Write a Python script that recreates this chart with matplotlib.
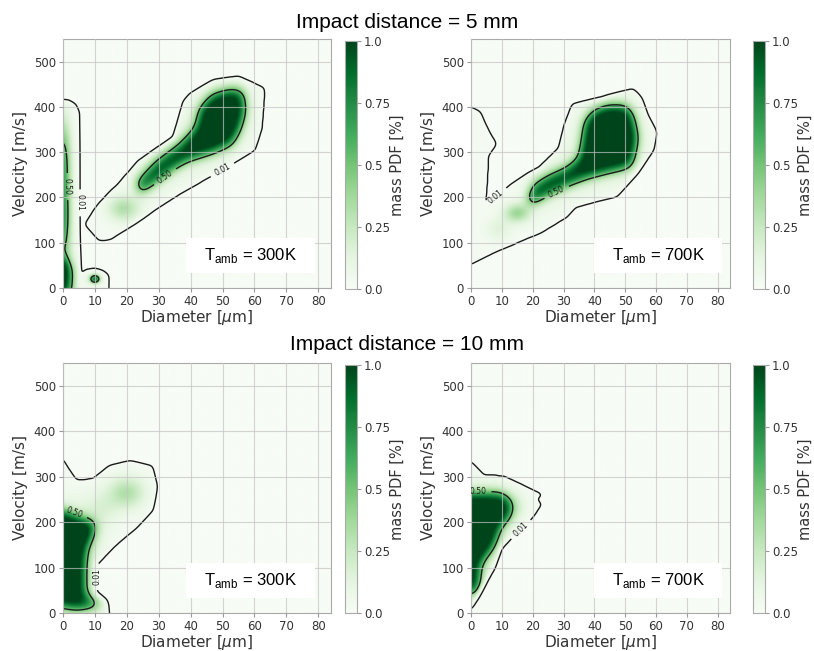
import numpy as np
import matplotlib
matplotlib.use("Agg")
import matplotlib.pyplot as plt
from matplotlib.path import Path
from matplotlib.patches import Rectangle

plt.rcParams["font.family"] = ["DejaVu Sans"]
plt.rcParams["mathtext.fontset"] = "custom"
plt.rcParams["mathtext.rm"] = "Liberation Sans"
plt.rcParams["mathtext.it"] = "DejaVu Sans:italic"

# ---- data ----------------------------------------------------------------
# each panel: 0.50 region outlines (core), 0.01 region outlines (halo),
# and faint blobs (diameter, velocity, spread_d, spread_v, level)

titles = ["Impact distance = 5 mm", "Impact distance = 10 mm"]
temps = ["300K", "700K", "300K", "700K"]
cbar_ticks = [0.0, 0.25, 0.5, 0.75, 1.0]
cbar_ticklabels = ["0.0", "0.25", "0.5", "0.75", "1.0"]

# 5 mm, 300 K
tl_core = [
    ([23, 24, 34.5, 38.7, 47, 53, 55.5, 57, 56.5, 53.3, 47, 43, 41.8, 36.6, 29.3],
     [233, 207, 263, 281, 300, 318, 352, 390, 433, 437, 426, 396, 352, 315, 278]),
    ([-5, 2.2, 2.6, 0.5, -5],
     [-20, -20, 40, 65, 65]),
]
tl_halo = [
    ([6.8, 11.5, 15, 22, 30, 36.6, 43, 53, 60, 62, 63, 55, 47, 40, 38, 35, 24, 9.6],
     [141, 104, 107, 144, 181, 211, 237, 278, 307, 352, 440, 463, 455, 426, 411, 330, 278, 170]),
    ([-5, 5, 5, 4, 2, -5],
     [-20, -20, 390, 405, 410, 410]),
    ([6, 6, 7.5, 10, 12.5, 14.5, 14.5],
     [-20, 28, 38, 42, 38, 28, -20]),
]
tl_blob_d = [19, 10, 0, 0]
tl_blob_v = [175, 20, 150, 290]
tl_blob_sd = [3.5, 1.2, 1.8, 1.8]
tl_blob_sv = [20, 7, 70, 60]
tl_blob_amp = [0.3, 0.8, 0.65, 0.5]

# 5 mm, 700 K
tr_core = [
    ([18, 20.2, 25.6, 31, 35.3, 36.4, 37, 39.6, 44, 50.4, 52.5, 54, 52.5, 51.5, 44, 37.5, 31, 24.3, 20.2],
     [190, 226, 248, 263, 285, 330, 367, 389, 400, 402, 381, 330, 278, 267, 256, 244, 226, 204, 185]),
]
tr_halo = [
    ([-5, 0, 3, 6, 8.4, 5.7, 5.4, 4.6, 5.7, 12.7, 18, 22.4, 28.8, 30.5, 33, 41.8, 52.5, 55, 57, 60, 59,
      53, 47, 41.8, 33.7, 31, 22.4, 9.5, 0, -5],
     [400, 400, 390, 345, 318, 292, 241, 167, 189, 226, 248, 263, 307, 359, 404, 415, 437, 420, 381, 344,
      307, 250, 204, 196, 181, 159, 122, 85, 52, 52]),
]
tr_blob_d = [15, 9]
tr_blob_v = [165, 130]
tr_blob_sd = [3, 3]
tr_blob_sv = [15, 18]
tr_blob_amp = [0.35, 0.12]

# 10 mm, 300 K
bl_core = [
    ([-5, 0, 5.2, 10, 9.5, 7.3, 6.8, 6.8, 9, 12, 11.5, 4, 0, -5],
     [227, 227, 209, 198, 180, 146, 94, 43, 30, 22, 13, 9, 14, 14]),
]
bl_halo = [
    ([-5, 0, 4.2, 9.4, 14.6, 21, 28, 29.3, 28, 23, 15.7, 10, 10, 13.6, 14.6, -5],
     [338, 338, 290, 293, 323, 334, 323, 279, 227, 187, 146, 109, 43, 24, -20, -20]),
]
bl_blob_d = [20, 12, 8]
bl_blob_v = [265, 230, 170]
bl_blob_sd = [4, 4, 3]
bl_blob_sv = [25, 30, 25]
bl_blob_amp = [0.3, 0.12, 0.12]

# 10 mm, 700 K
br_core = [
    ([-5, 0, 9.5, 12.7, 12.7, 9.5, 7.3, 3, 2.5, 0, -5],
     [262, 262, 264, 249, 212, 190, 146, 109, 50, 43, 43]),
]
br_halo = [
    ([-5, 0, 4, 10.5, 18, 23.5, 21, 23, 20, 13.8, 9.5, 7.3, 4, 0, -5],
     [330, 330, 300, 297, 275, 260, 250, 240, 212, 175, 146, 102, 65, 13, 13]),
]
br_blob_d = [14]
br_blob_v = [235]
br_blob_sd = [2.5]
br_blob_sv = [20]
br_blob_amp = [0.15]

panels = [
    (tl_core, tl_halo, tl_blob_d, tl_blob_v, tl_blob_sd, tl_blob_sv, tl_blob_amp),
    (tr_core, tr_halo, tr_blob_d, tr_blob_v, tr_blob_sd, tr_blob_sv, tr_blob_amp),
    (bl_core, bl_halo, bl_blob_d, bl_blob_v, bl_blob_sd, bl_blob_sv, bl_blob_amp),
    (br_core, br_halo, br_blob_d, br_blob_v, br_blob_sd, br_blob_sv, br_blob_amp),
]

# ---- grid ------------------------------------------------------------------
dd, dv = 0.25, 2.0
d_axis = np.arange(-10, 90 + dd, dd)
v_axis = np.arange(-50, 600 + dv, dv)
D, V = np.meshgrid(d_axis, v_axis)
pts = np.column_stack([D.ravel(), V.ravel()])

# visible window (the padding around it only keeps the blur clean at the edges)
keep_d = (d_axis >= 0) & (d_axis <= 84)
keep_v = (v_axis >= 0) & (v_axis <= 550)


def mask(poly):
    path = Path(np.column_stack(poly))
    return path.contains_points(pts).reshape(D.shape).astype(float)


def kernel(sigma):
    n = int(np.ceil(4 * sigma))
    x = np.arange(-n, n + 1)
    k = np.exp(-0.5 * (x / sigma) ** 2)
    return k / k.sum()


def blur(a, sd, sv):
    kd = kernel(sd / dd)
    kv = kernel(sv / dv)
    a = np.apply_along_axis(lambda r: np.convolve(r, kd, mode="same"), 1, a)
    a = np.apply_along_axis(lambda c: np.convolve(c, kv, mode="same"), 0, a)
    return a


def build_field(core, halo, bd, bv, bsd, bsv, bamp):
    halo_m = np.zeros(D.shape)
    for poly in halo:
        halo_m = np.maximum(halo_m, mask(poly))
    hs = blur(halo_m, 0.6, 5)

    sharp = np.zeros(D.shape)
    glow = np.zeros(D.shape)
    for poly in core:
        m = mask(poly)
        sharp += blur(m, 1.7, 13)
        glow += blur(m, 4.5, 40)

    blobs = np.zeros(D.shape)
    for d0, v0, sd, sv, a in zip(bd, bv, bsd, bsv, bamp):
        blobs += a * np.exp(-0.5 * ((D - d0) / sd) ** 2 - 0.5 * ((V - v0) / sv) ** 2)

    f = (0.95 * sharp + 0.3 * glow + blobs + 0.02) * hs
    return np.clip(f, 0, 1)


# ---- figure ----------------------------------------------------------------
W, H = 814, 651
fig = plt.figure(figsize=(W / 100, H / 100), dpi=100)


def px(left, top, right, bottom):
    return [left / W, 1 - bottom / H, (right - left) / W, (bottom - top) / H]


ax_boxes = [px(63, 39, 331, 288), px(471, 39, 730, 288),
            px(63, 363, 331, 613), px(471, 363, 730, 613)]
cb_boxes = [px(345, 41, 357, 289), px(753, 41, 765, 289),
            px(345, 365, 357, 613), px(753, 365, 765, 613)]
label_boxes = [(0.46, 0.94), (0.475, 0.97), (0.46, 0.94), (0.475, 0.97)]

dv_vis = d_axis[keep_d]
vv_vis = v_axis[keep_v]

for i, (core, halo, bd, bv, bsd, bsv, bamp) in enumerate(panels):
    field = build_field(core, halo, bd, bv, bsd, bsv, bamp)[np.ix_(keep_v, keep_d)]
    ax = fig.add_axes(ax_boxes[i])
    im = ax.imshow(field, origin="lower", cmap="Greens", vmin=0, vmax=1,
                   extent=[dv_vis[0] - dd / 2, dv_vis[-1] + dd / 2,
                           vv_vis[0] - dv / 2, vv_vis[-1] + dv / 2],
                   aspect="auto", interpolation="bilinear", zorder=0)
    cs = ax.contour(dv_vis, vv_vis, field, levels=[0.01, 0.5], colors="#1a1a1a",
                    linewidths=1.0, zorder=2)
    ax.clabel(cs, fmt={0.01: "0.01", 0.5: "0.50"}, fontsize=5.5, inline=True)
    ax.set_xlim(0, 84)
    ax.set_ylim(0, 550)
    ax.set_xticks(range(0, 90, 10))
    ax.set_yticks(range(0, 600, 100))
    ax.grid(True, color="#c4c4c4", linewidth=0.8, alpha=0.7, zorder=3)
    ax.set_axisbelow(False)
    ax.tick_params(labelsize=8.5, labelcolor="#333333", color="#999999",
                   length=3, pad=2)
    for s in ax.spines.values():
        s.set_color("#aaaaaa")
    ax.set_xlabel(r"Diameter [$\mu$m]", fontsize=11, color="#333333", labelpad=0)
    ax.set_ylabel("Velocity [m/s]", fontsize=11, color="#333333", labelpad=4)

    x0, x1 = label_boxes[i]
    ax.add_patch(Rectangle((x0, 0.06), x1 - x0, 0.14, transform=ax.transAxes,
                           facecolor="white", edgecolor="none", zorder=5))
    ax.text((x0 + x1) / 2, 0.13, r"T$_{\mathrm{amb}}$ = " + temps[i],
            transform=ax.transAxes, ha="center", va="center", fontsize=12,
            family="Liberation Sans", zorder=6)

    cax = fig.add_axes(cb_boxes[i])
    cb = fig.colorbar(im, cax=cax, ticks=cbar_ticks)
    cb.ax.set_yticklabels(cbar_ticklabels)
    cb.ax.tick_params(labelsize=8.5, labelcolor="#333333", color="#999999",
                      length=3, pad=2)
    cb.outline.set_edgecolor("#aaaaaa")
    cb.set_label("mass PDF [%]", fontsize=10.5, color="#333333", labelpad=0)

fig.text(407 / W, 1 - 22 / H, titles[0], ha="center", va="center",
         fontsize=15, family="Liberation Sans")
fig.text(407 / W, 1 - 345 / H, titles[1], ha="center", va="center",
         fontsize=15, family="Liberation Sans")

fig.savefig("out.png", dpi=100)
